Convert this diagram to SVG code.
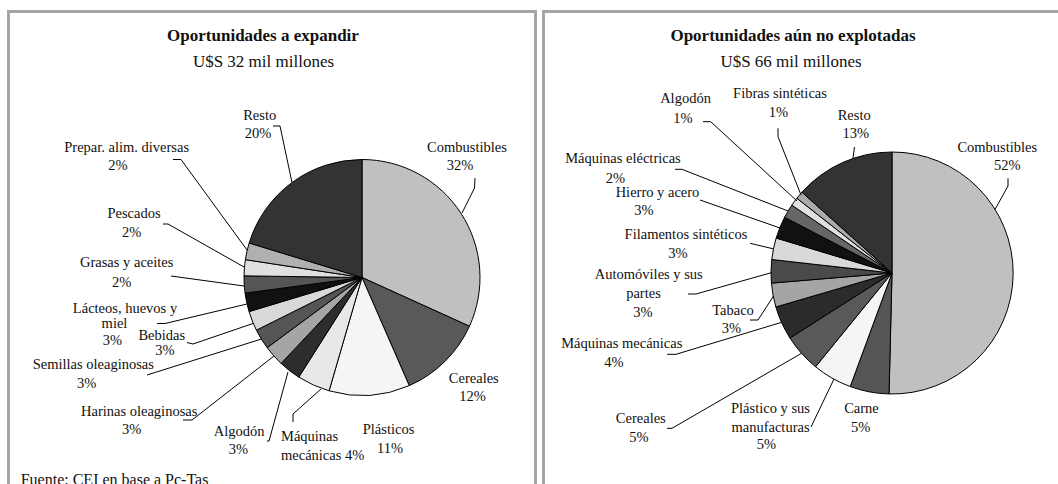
<svg xmlns="http://www.w3.org/2000/svg" width="1058" height="484" viewBox="0 0 1058 484">
<style>
text{font-family:"Liberation Serif","Times New Roman",serif;fill:#111;font-size:14.5px;text-anchor:middle}
.t{font-size:17px;font-weight:bold}
.s{font-size:17px}
.src{font-size:16px;text-anchor:start}
.st{text-anchor:start}
.sl{stroke:#000;stroke-width:1;stroke-linejoin:round}
.ld{fill:none;stroke:#000;stroke-width:1}
.frame{fill:#fff;stroke:#a6a6a6;stroke-width:3}
</style>
<rect width="1058" height="484" fill="#fff"/>
<rect class="frame" x="8.5" y="11.5" width="527" height="500"/>
<rect class="frame" x="543.5" y="11.5" width="530" height="500"/>

<g id="left-chart">
<text class="t" x="263" y="41">Oportunidades a expandir</text>
<text class="s" x="263.5" y="67">U$S 32 mil millones</text>
<g id="l-combustibles"><path class="sl" fill="#c0c0c0" d="M362,277.5 L362,159.5 A118,118 0 0 1 469.46,326.25 Z"/><text x="467" y="151.7">Combustibles</text><text x="460" y="170">32%</text></g>
<g id="l-cereales"><path class="sl" fill="#595959" d="M362,277.5 L469.46,326.25 A118,118 0 0 1 409.24,385.64 Z"/><text x="473.8" y="382.7">Cereales</text><text x="472.5" y="400.7">12%</text></g>
<g id="l-plasticos"><path class="sl" fill="#f5f5f5" d="M362,277.5 L409.24,385.64 A118,118 0 0 1 329.08,390.82 Z"/><text x="388.5" y="434.3">Plásticos</text><text x="390" y="453.3">11%</text></g>
<g id="l-maquinas"><path class="sl" fill="#e8e8e8" d="M362,277.5 L329.08,390.82 A118,118 0 0 1 298.78,377.13 Z"/><text class="st" x="281" y="441">Máquinas</text><text class="st" x="281" y="460">mecánicas 4%</text></g>
<g id="l-algodon"><path class="sl" fill="#2d2d2d" d="M362,277.5 L298.78,377.13 A118,118 0 0 1 281.08,363.38 Z"/><text x="239.2" y="436">Algodón</text><text x="238.3" y="454">3%</text></g>
<g id="l-harinas"><path class="sl" fill="#a5a5a5" d="M362,277.5 L281.08,363.38 A118,118 0 0 1 267.14,347.69 Z"/><text x="139.2" y="416">Harinas oleaginosas</text><text x="131.7" y="433.5">3%</text></g>
<g id="l-semillas"><path class="sl" fill="#555555" d="M362,277.5 L267.14,347.69 A118,118 0 0 1 256.4,330.15 Z"/><text x="93.3" y="369.3">Semillas oleaginosas</text><text x="86.7" y="388.3">3%</text></g>
<g id="l-bebidas"><path class="sl" fill="#d9d9d9" d="M362,277.5 L256.4,330.15 A118,118 0 0 1 249.04,311.6 Z"/><text x="161.8" y="340">Bebidas</text><text x="165" y="355">3%</text></g>
<g id="l-lacteos"><path class="sl" fill="#111111" d="M362,277.5 L249.04,311.6 A118,118 0 0 1 245.04,293.11 Z"/><text x="125" y="313">Lácteos, huevos y</text><text x="114.5" y="328">miel</text><text x="112.5" y="345">3%</text></g>
<g id="l-grasas"><path class="sl" fill="#555555" d="M362,277.5 L245.04,293.11 A118,118 0 0 1 244.01,275.85 Z"/><text x="126.7" y="267.3">Grasas y aceites</text><text x="121.7" y="286.7">2%</text></g>
<g id="l-pescados"><path class="sl" fill="#e0e0e0" d="M362,277.5 L244.01,275.85 A118,118 0 0 1 245.36,259.65 Z"/><text x="134" y="218.3">Pescados</text><text x="131.7" y="236.7">2%</text></g>
<g id="l-prepar"><path class="sl" fill="#b0b0b0" d="M362,277.5 L245.36,259.65 A118,118 0 0 1 249.16,243 Z"/><text x="126.7" y="151.7">Prepar. alim. diversas</text><text x="118" y="170">2%</text></g>
<g id="l-resto"><path class="sl" fill="#333333" d="M362,277.5 L249.16,243 A118,118 0 0 1 362,159.5 Z"/><text x="259.7" y="120">Resto</text><text x="258" y="138.3">20%</text></g>
<text class="src" x="20.7" y="485">Fuente: CEI en base a Pc-Tas</text>
</g>

<g id="right-chart">
<text class="t" x="793" y="41">Oportunidades aún no explotadas</text>
<text class="s" x="791" y="67">U$S 66 mil millones</text>
<g id="r-combustibles"><path class="sl" fill="#c0c0c0" d="M892,273 L892,152 A121,121 0 1 1 889.04,393.96 Z"/><text x="997.3" y="151.7">Combustibles</text><text x="1007.3" y="170">52%</text></g>
<g id="r-carne"><path class="sl" fill="#555555" d="M892,273 L889.04,393.96 A121,121 0 0 1 850.22,386.56 Z"/><text x="861.5" y="413.3">Carne</text><text x="860.7" y="431.7">5%</text></g>
<g id="r-plastico"><path class="sl" fill="#f5f5f5" d="M892,273 L850.22,386.56 A121,121 0 0 1 815.53,366.76 Z"/><text x="770.5" y="413.3">Plástico y sus</text><text x="770.5" y="431.7">manufacturas</text><text x="766.3" y="449.3">5%</text></g>
<g id="r-cereales"><path class="sl" fill="#595959" d="M892,273 L815.53,366.76 A121,121 0 0 1 789.95,338.01 Z"/><text x="640.8" y="422.7">Cereales</text><text x="639" y="441.7">5%</text></g>
<g id="r-maqmec"><path class="sl" fill="#2b2b2b" d="M892,273 L789.95,338.01 A121,121 0 0 1 775.86,306.96 Z"/><text x="621.8" y="348.3">Máquinas mecánicas</text><text x="614" y="366.7">4%</text></g>
<g id="r-tabaco"><path class="sl" fill="#a5a5a5" d="M892,273 L775.86,306.96 A121,121 0 0 1 771.42,283.12 Z"/><text x="733" y="315">Tabaco</text><text x="731.3" y="332.7">3%</text></g>
<g id="r-automoviles"><path class="sl" fill="#4a4a4a" d="M892,273 L771.42,283.12 A121,121 0 0 1 771.75,259.51 Z"/><text x="648.8" y="279.3">Automóviles y sus</text><text x="643.5" y="298.3">partes</text><text x="643" y="316.7">3%</text></g>
<g id="r-filamentos"><path class="sl" fill="#d9d9d9" d="M892,273 L771.75,259.51 A121,121 0 0 1 776.17,238.03 Z"/><text x="686" y="239.3">Filamentos sintéticos</text><text x="678" y="258.3">3%</text></g>
<g id="r-hierro"><path class="sl" fill="#111111" d="M892,273 L776.17,238.03 A121,121 0 0 1 784.58,217.32 Z"/><text x="657.5" y="196.7">Hierro y acero</text><text x="643.8" y="215">3%</text></g>
<g id="r-maqelec"><path class="sl" fill="#666666" d="M892,273 L784.58,217.32 A121,121 0 0 1 791.8,205.17 Z"/><text x="623" y="163.3">Máquinas eléctricas</text><text x="615.5" y="183.3">2%</text></g>
<g id="r-algodon"><path class="sl" fill="#e0e0e0" d="M892,273 L791.8,205.17 A121,121 0 0 1 796.87,198.22 Z"/><text x="685.5" y="103.3">Algodón</text><text x="682.8" y="122.7">1%</text></g>
<g id="r-fibras"><path class="sl" fill="#aaaaaa" d="M892,273 L796.87,198.22 A121,121 0 0 1 801.94,192.2 Z"/><text x="780" y="97.7">Fibras sintéticas</text><text x="778.3" y="116.7">1%</text></g>
<g id="r-resto"><path class="sl" fill="#333333" d="M892,273 L801.94,192.2 A121,121 0 0 1 892,152 Z"/><text x="854.2" y="120">Resto</text><text x="855.7" y="138.3">13%</text></g>
</g>

<g id="connectors">
<polyline class="ld" points="273,126 280,126 292,182.5"/>
<polyline class="ld" points="475,178 474.5,188 462,213"/>
<polyline class="ld" points="173,159.5 181,159.5 247,250"/>
<polyline class="ld" points="163,224 168,224 244,267"/>
<polyline class="ld" points="171,276 244,286"/>
<polyline class="ld" points="157,323.5 165,323.5 247,304"/>
<polyline class="ld" points="187,342.5 193,344 253,323.5"/>
<polyline class="ld" points="147,375 261.5,339"/>
<polyline class="ld" points="183,420 192,420 274,356"/>
<polyline class="ld" points="267,441 269,441 288,372"/>
<polyline class="ld" points="293,422 293,414 321,389"/>
<polyline class="ld" points="703,121.7 710.7,121.7 797,201"/>
<polyline class="ld" points="778,128.3 778,136.7 801,195"/>
<polyline class="ld" points="854.5,147 853,158"/>
<polyline class="ld" points="1008,178.3 1008,186 995,209.5"/>
<polyline class="ld" points="675,169.3 682,169.3 788,211"/>
<polyline class="ld" points="700,200 780,228"/>
<polyline class="ld" points="750,243.3 774,249"/>
<polyline class="ld" points="688,294 696,294 772,272.5"/>
<polyline class="ld" points="750,320 758,320 773.5,296"/>
<polyline class="ld" points="667,354.3 676,354.3 781,322.5"/>
<polyline class="ld" points="667,428.3 672,428.3 801.5,353.3"/>
<polyline class="ld" points="811,427 834,379"/>
</g>
</svg>
